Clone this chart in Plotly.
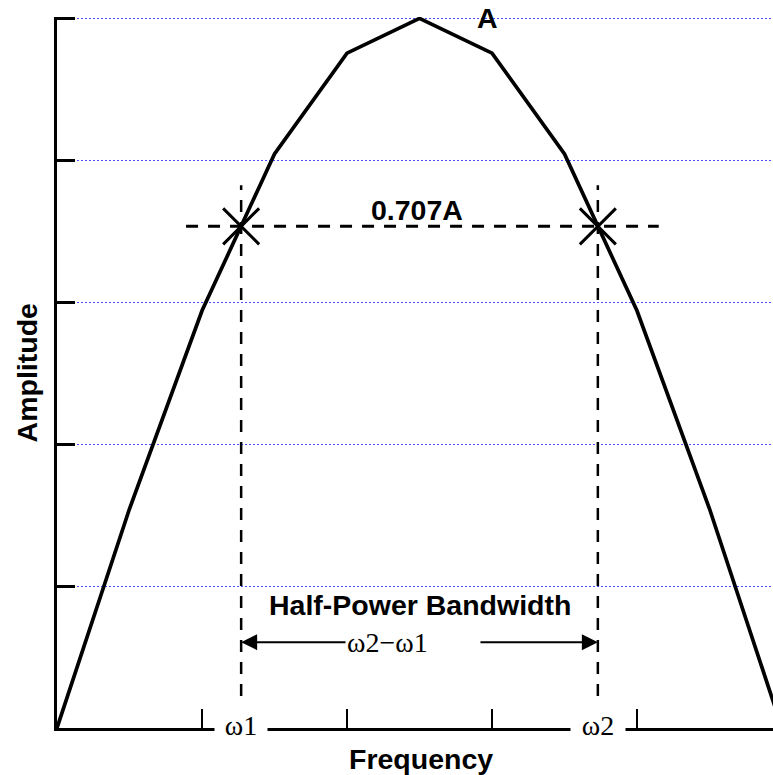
import plotly.graph_objects as go

# Frequency response samples (normalised amplitude, peak A = 1)
freq = [0.0, 0.5, 1.0, 1.5, 2.0, 2.5, 3.0, 3.5, 4.0, 4.5, 5.0]
amp = [0.0, 0.309, 0.588, 0.809, 0.951, 1.0, 0.951, 0.809, 0.588, 0.309, 0.0]

peak_amp = 1.0
half_power_ratio = 0.707
omega1 = 1.27
omega2 = 3.73

x_ticks = [1, 2, 3, 4]
y_ticks = [0.2, 0.4, 0.6, 0.8, 1.0]

half_line_x = [0.89, 4.15]
vline_y = [0.045, 0.765]
arrow_y = 0.121
arrow_tail_left = 2.0
arrow_tail_right = 2.91

hp = half_power_ratio * peak_amp

BOLD = dict(family="Liberation Sans, Arial, sans-serif", size=28.5, color="black", weight="bold")
SERIF = dict(family="Liberation Serif, Times New Roman, serif", size=28, color="black")

fig = go.Figure()

# response curve
fig.add_trace(go.Scatter(x=freq, y=amp, mode="lines",
                         line=dict(color="black", width=3.7),
                         hoverinfo="skip", showlegend=False))

# half-power level
fig.add_trace(go.Scatter(x=half_line_x, y=[hp, hp], mode="lines",
                         line=dict(color="black", width=3, dash="12px,10px"),
                         hoverinfo="skip", showlegend=False))

# vertical markers at the band edges
for w in (omega1, omega2):
    fig.add_trace(go.Scatter(x=[w, w], y=vline_y, mode="lines",
                             line=dict(color="black", width=2.5, dash="12px,10px"),
                             hoverinfo="skip", showlegend=False))

# crossing marks
fig.add_trace(go.Scatter(x=[omega1, omega2], y=[hp, hp], mode="markers",
                         marker=dict(symbol="x-thin-open", size=36, color="black",
                                     line=dict(color="black", width=3)),
                         hoverinfo="skip", showlegend=False))

annotations = [
    dict(x=2.966, y=peak_amp, text="A", showarrow=False, font=BOLD,
         xanchor="center", yanchor="middle"),
    dict(x=2.48, y=0.7296, text="0.707A", showarrow=False, font=BOLD,
         xanchor="center", yanchor="middle"),
    dict(x=2.5, y=0.173, text="Half-Power Bandwidth", showarrow=False, font=BOLD,
         xanchor="center", yanchor="middle"),
    dict(x=2.28, y=arrow_y, text="ω2−ω1", showarrow=False, font=SERIF,
         xanchor="center", yanchor="middle"),
    # bandwidth arrows
    dict(x=omega1, y=arrow_y, ax=arrow_tail_left, ay=arrow_y, axref="x", ayref="y",
         text="", showarrow=True, arrowhead=2, arrowsize=1.6, arrowwidth=2,
         arrowcolor="black", standoff=0, startstandoff=0),
    dict(x=omega2, y=arrow_y, ax=arrow_tail_right, ay=arrow_y, axref="x", ayref="y",
         text="", showarrow=True, arrowhead=2, arrowsize=1.6, arrowwidth=2,
         arrowcolor="black", standoff=0, startstandoff=0),
    # band-edge labels on the frequency axis
    dict(x=omega1, y=0, yref="y", text="ω1", showarrow=False, font=SERIF,
         bgcolor="white", width=50, xanchor="center", yanchor="middle", yshift=3),
    dict(x=omega2, y=0, yref="y", text="ω2", showarrow=False, font=SERIF,
         bgcolor="white", width=52, xanchor="center", yanchor="middle", yshift=3),
    # axis titles
    dict(x=0.508, y=-0.043, xref="paper", yref="paper", text="Frequency",
         showarrow=False, font=BOLD, xanchor="center", yanchor="middle"),
    dict(x=-0.042, y=0.5, xref="paper", yref="paper", text="Amplitude",
         showarrow=False, font=BOLD, textangle=-90, xanchor="center", yanchor="middle"),
]

fig.update_layout(
    width=773, height=775,
    margin=dict(l=57, r=0, t=17, b=47),
    plot_bgcolor="white", paper_bgcolor="white",
    showlegend=False,
    annotations=annotations,
    xaxis=dict(range=[0, 716 / 145], tickvals=x_ticks, showticklabels=False,
               ticks="inside", ticklen=19, tickwidth=2, tickcolor="black",
               showline=True, linecolor="black", linewidth=3,
               showgrid=False, zeroline=False, fixedrange=True),
    yaxis=dict(range=[0, 1.002], tickvals=y_ticks, showticklabels=False,
               ticks="inside", ticklen=18, tickwidth=3, tickcolor="black",
               showline=True, linecolor="black", linewidth=3,
               showgrid=True, gridcolor="#4a4aff", gridwidth=1, griddash="2px,2px",
               zeroline=False, fixedrange=True),
)

fig.write_html("out.html", config={"displayModeBar": False})
